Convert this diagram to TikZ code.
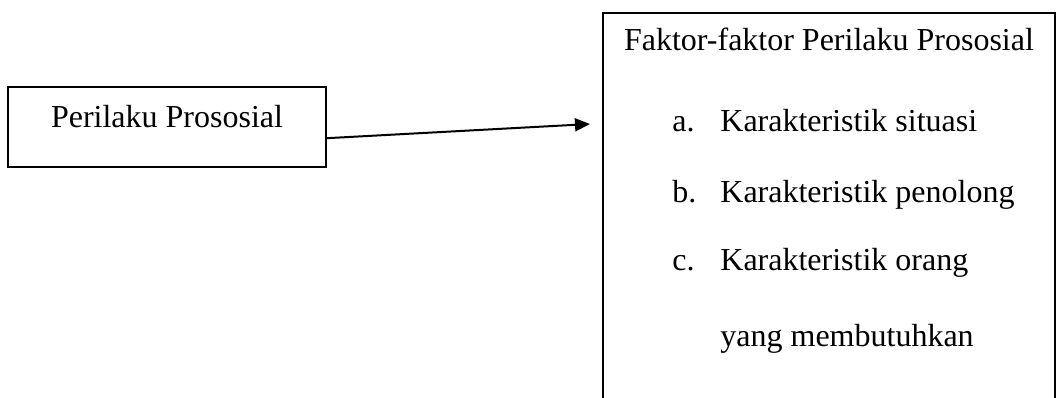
\documentclass[tikz,border=0pt]{standalone}
\usepackage{fontspec}
\setmainfont{Liberation Serif}
\usepackage{tikz}
\usetikzlibrary{arrows.meta}
\tikzset{
  kotak/.style={rectangle,draw=black,line width=0.9pt,inner sep=0pt},
  teks/.style={inner sep=0pt,font=\fontsize{16}{19}\selectfont},
  panah/.style={-{Triangle[length=7.5pt,width=6.5pt]},line width=1pt}
}

\begin{document}
\begin{tikzpicture}[x=0.5pt,y=-0.5pt]
  \useasboundingbox (0,0) rectangle (1061,397);
  \clip (0,0) rectangle (1061,397);
  % kotak kiri
  \node[kotak,minimum width=159pt,minimum height=40pt] (perilaku) at (167,127) {};
  \node[teks,anchor=base] (judulkiri) at (167,127) {Perilaku Prososial};
  % kotak kanan (bagian bawah terpotong)
  \node[kotak,minimum width=226pt,minimum height=212pt] (faktor) at (829,225) {};
  \node[teks,anchor=base] (judul) at (829,50) {Faktor-faktor Perilaku Prososial};
  \node[teks,anchor=base west] (hurufa) at (672,131) {a.};
  \node[teks,anchor=base west] (itema) at (720,131) {Karakteristik situasi};
  \node[teks,anchor=base west] (hurufb) at (672,202) {b.};
  \node[teks,anchor=base west] (itemb) at (720,202) {Karakteristik penolong};
  \node[teks,anchor=base west] (hurufc) at (672,270) {c.};
  \node[teks,anchor=base west] (itemc) at (720,270) {Karakteristik orang};
  \node[teks,anchor=base west] (itemc2) at (720,346) {yang membutuhkan};
  \coordinate (ujung) at (590,124);
  \draw[panah] (perilaku.-4) -- (ujung);
\end{tikzpicture}
\end{document}
